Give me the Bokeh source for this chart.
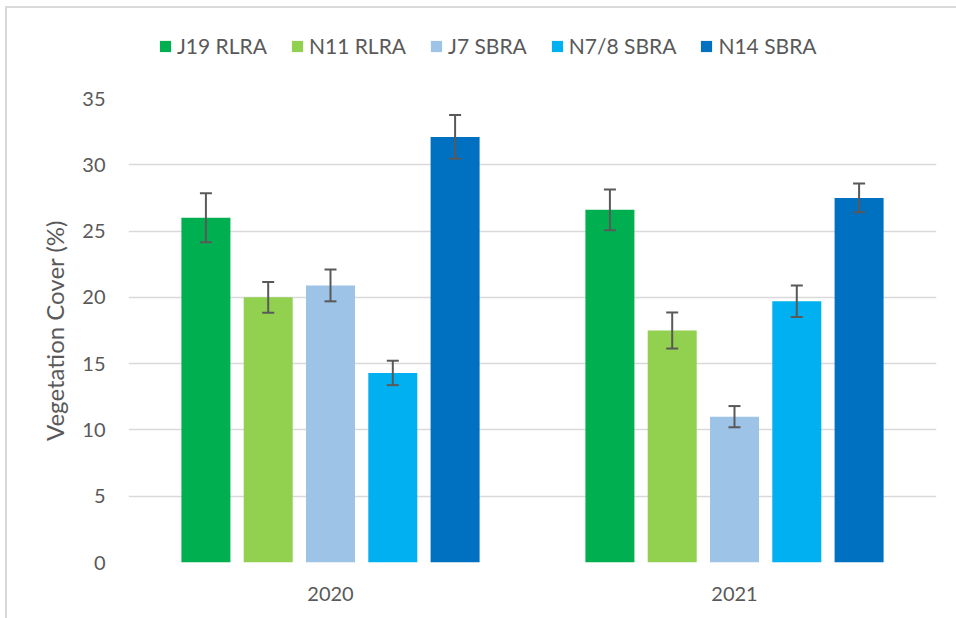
from bokeh.plotting import figure
from bokeh.layouts import column
from bokeh.models import (ColumnDataSource, FactorRange, Range1d, Whisker, TeeHead, FixedTicker,
                          Legend, LegendItem)
from bokeh.transform import dodge
from bokeh.embed import file_html
from bokeh.resources import INLINE

years = ["2020", "2021"]
series = ["J19 RLRA", "N11 RLRA", "J7 SBRA", "N7/8 SBRA", "N14 SBRA"]
colors = ["#00B050", "#92D050", "#9DC3E6", "#00B0F0", "#0070C0"]

j19_rlra = [26.0, 26.6]
n11_rlra = [20.0, 17.5]
j7_sbra = [20.9, 11.0]
n78_sbra = [14.3, 19.7]
n14_sbra = [32.1, 27.5]

j19_err = [1.85, 1.53]
n11_err = [1.16, 1.36]
j7_err = [1.20, 0.80]
n78_err = [0.92, 1.19]
n14_err = [1.65, 1.08]

values = [j19_rlra, n11_rlra, j7_sbra, n78_sbra, n14_sbra]
errors = [j19_err, n11_err, j7_err, n78_err, n14_err]
yticks = [0, 5, 10, 15, 20, 25, 30, 35]

FONT = "Lato"
GREY = "#595959"

# legend strip (its own small figure, so the legend is not clipped by the chart frame)
leg = figure(x_range=FactorRange(*years), y_range=Range1d(1000, 1001), width=949, height=60,
             output_backend="svg", toolbar_location=None, min_border=0,
             x_axis_location=None, y_axis_location=None)
leg.grid.grid_line_color = None
leg.outline_line_color = None

p = figure(x_range=FactorRange(*years), y_range=(0, 35), width=949, height=550,
           output_backend="svg", toolbar_location=None,
           min_border_left=121, min_border_right=20, min_border_top=30, min_border_bottom=56)

pitch = 0.1542
bw = 0.1213
items = []
for i, (name, col, vals, errs) in enumerate(zip(series, colors, values, errors)):
    src = ColumnDataSource(dict(year=years, val=vals,
                                upper=[v + e for v, e in zip(vals, errs)],
                                lower=[v - e for v, e in zip(vals, errs)]))
    off = (i - 2) * pitch
    p.vbar(x=dodge("year", off, range=p.x_range), top="val", width=bw, source=src,
           fill_color=col, line_color=None)
    lr = leg.vbar(x=dodge("year", off, range=leg.x_range), top="val", width=bw, source=src,
                  fill_color=col, line_color=None)
    items.append(LegendItem(label=name, renderers=[lr]))
    w = Whisker(source=src, base=dodge("year", off, range=p.x_range), upper="upper", lower="lower",
                line_color=GREY, line_width=2,
                upper_head=TeeHead(size=12, line_color=GREY, line_width=2),
                lower_head=TeeHead(size=12, line_color=GREY, line_width=2))
    w.level = "overlay"
    p.add_layout(w)

legend = Legend(items=items, orientation="horizontal", location=(30, 10),
                glyph_width=14, glyph_height=14, label_standoff=5, spacing=23,
                padding=0, margin=0, border_line_color=None, background_fill_alpha=0,
                label_text_font=FONT, label_text_font_size="21px", label_text_color=GREY)
leg.add_layout(legend)

p.outline_line_color = None
p.xgrid.grid_line_color = None
p.ygrid.grid_line_color = "#D9D9D9"
p.ygrid.grid_line_width = 1.5
p.yaxis.ticker = FixedTicker(ticks=yticks)

for ax in (p.xaxis[0], p.yaxis[0]):
    ax.axis_line_color = None
    ax.major_tick_line_color = None
    ax.minor_tick_line_color = None
    ax.major_tick_out = 0
    ax.major_tick_in = 0
    ax.major_label_text_font = FONT
    ax.major_label_text_font_size = "20px"
    ax.major_label_text_color = GREY

p.yaxis.major_label_standoff = 23
p.xaxis.major_label_standoff = 24
p.yaxis.axis_label = "Vegetation Cover (%)"
p.yaxis.axis_label_text_font = FONT
p.yaxis.axis_label_text_font_size = "24px"
p.yaxis.axis_label_text_font_style = "normal"
p.yaxis.axis_label_text_color = GREY
p.yaxis.axis_label_standoff = 10

layout = column(leg, p, spacing=0, margin=(6, 0, 0, 5),
                styles={"border-left": "2px solid #D9D9D9", "border-top": "2px solid #D9D9D9"})

open("out.html", "w").write(file_html(layout, INLINE))
